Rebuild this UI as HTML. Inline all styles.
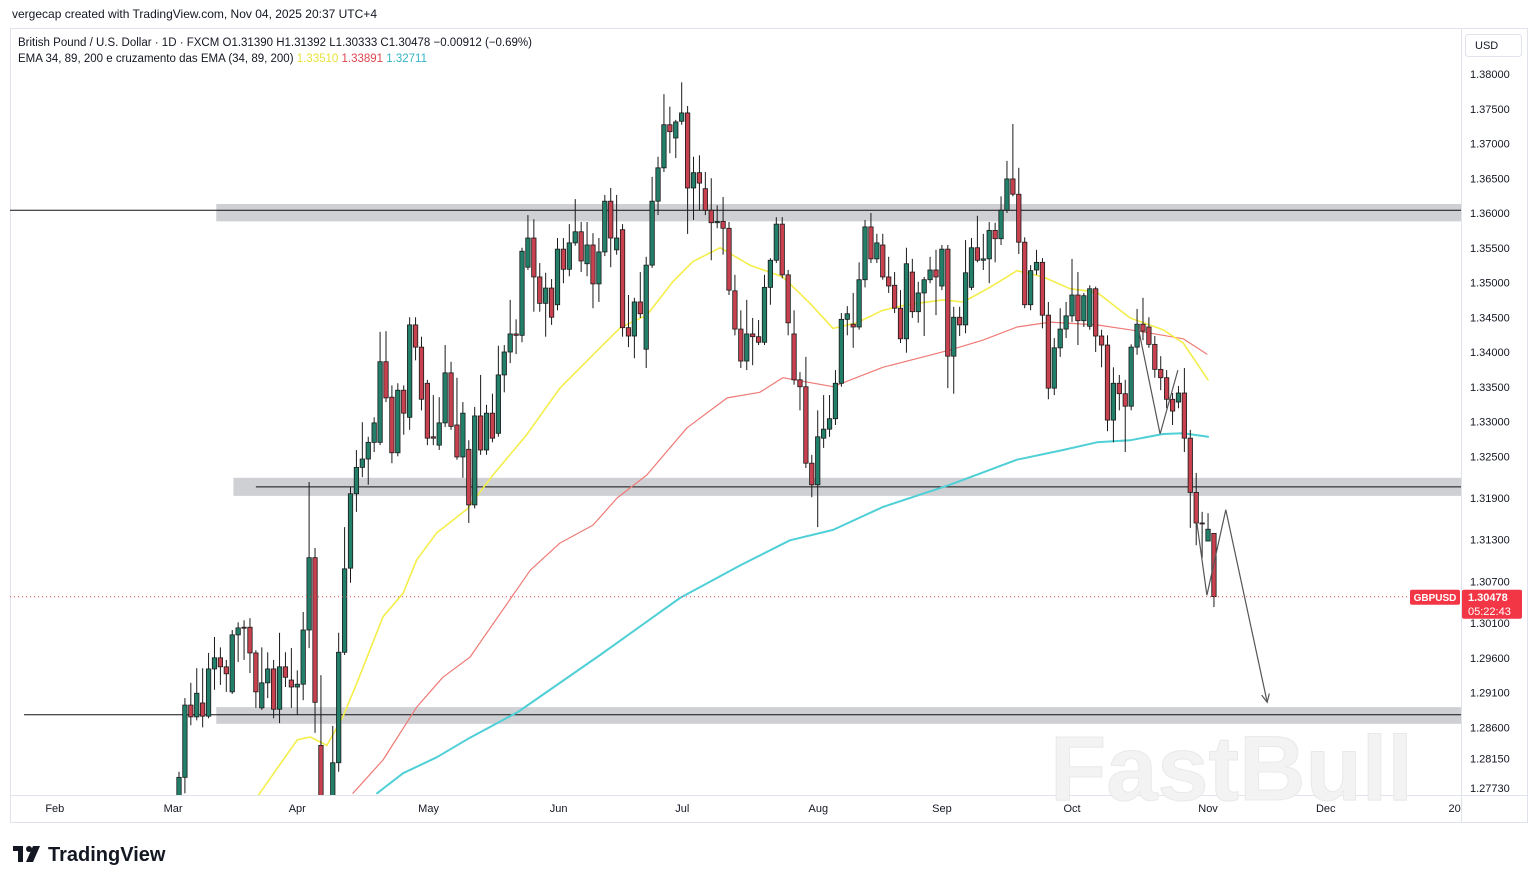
<!DOCTYPE html>
<html><head><meta charset="utf-8">
<style>
html,body{margin:0;padding:0;background:#fff;}
svg{display:block;font-family:"Liberation Sans",sans-serif;}
</style></head>
<body>
<svg id="chart" width="1537" height="883" viewBox="0 0 1537 883" xmlns="http://www.w3.org/2000/svg">
<defs><clipPath id="plotClip"><rect x="10" y="28" width="1451" height="767"/></clipPath></defs>
<rect x="0" y="0" width="1537" height="883" fill="#fff"/>
<text x="12" y="18" font-size="12" fill="#131722">vergecap created with TradingView.com, Nov 04, 2025 20:37 UTC+4</text>
<rect x="10.5" y="28.5" width="1517" height="794" fill="none" stroke="#e0e3eb"/>
<line x1="1461.5" y1="28" x2="1461.5" y2="822" stroke="#e0e3eb"/>
<line x1="10" y1="795.5" x2="1527" y2="795.5" stroke="#e0e3eb"/>
<text x="1050" y="800" font-size="92" font-weight="bold" fill="#f3f3f3" stroke="#e9e9e9" stroke-width="1">FastBull</text>
<g id="zones" clip-path="url(#plotClip)"></g>
<g id="emas" clip-path="url(#plotClip)"></g>
<g id="candles" clip-path="url(#plotClip)"></g>
<g id="annot" clip-path="url(#plotClip)"></g>
<g id="yaxis"></g>
<g id="xaxis"></g>
<g id="lastprice"></g>
<g>
<text x="18" y="46" font-size="11.5" fill="#131722">British Pound / U.S. Dollar · 1D · FXCM  O1.31390  H1.31392  L1.30333  C1.30478  −0.00912 (−0.69%)</text>
<text x="18" y="62" font-size="11.5" fill="#131722">EMA 34, 89, 200 e cruzamento das EMA (34, 89, 200)  <tspan fill="#e8e23a">1.33510</tspan>  <tspan fill="#e0454f">1.33891</tspan>  <tspan fill="#34b4c4">1.32711</tspan></text>
</g>
<g>
<rect x="1465.5" y="34.5" width="56" height="22" rx="3" fill="#fff" stroke="#e0e3eb"/>
<text x="1475" y="49" font-size="11" fill="#131722">USD</text>
</g>
<g>
<rect x="13" y="846" width="10" height="5" fill="#131722"/>
<rect x="18" y="846" width="5" height="16" fill="#131722"/>
<circle cx="29" cy="849" r="3" fill="#131722"/>
<polygon points="33,846 40,846 33,862 26,862" fill="#131722"/>
<text x="48" y="861" font-size="20" font-weight="bold" fill="#131722">TradingView</text>
</g>
</svg>
<script>
const opens=[1.2755,1.2788,1.2892,1.2875,1.2895,1.2876,1.2944,1.2960,1.2947,1.2911,
1.2993,1.3004,1.3004,1.2967,1.2888,1.2924,1.2944,1.2886,1.2947,1.2928,
1.2918,1.2922,1.3000,1.3104,1.2834,1.2720,1.2755,1.2809,1.2968,1.3089,
1.3196,1.3234,1.3246,1.3270,1.3270,1.3386,1.3335,1.3255,1.3345,1.3306,
1.3439,1.3407,1.3355,1.3278,1.3266,1.3298,1.3370,1.3295,1.3249,1.3260,
1.3180,1.3308,1.3259,1.3312,1.3283,1.3367,1.3400,1.3426,1.3424,1.3522,
1.3564,1.3508,1.3470,1.3492,1.3468,1.3548,1.3519,1.3557,1.3573,1.3527,
1.3554,1.3498,1.3544,1.3617,1.3547,1.3576,1.3435,1.3423,1.3472,1.3404,
1.3525,1.3617,1.3665,1.3727,1.3708,1.3732,1.3744,1.3636,1.3658,1.3635,
1.3604,1.3586,1.3588,1.3578,1.3488,1.3433,1.3387,1.3426,1.3422,1.3414,
1.3493,1.3532,1.3584,1.3511,1.3426,1.3360,1.3350,1.3240,1.3209,1.3276,
1.3289,1.3304,1.3355,1.3447,1.3440,1.3436,1.3504,1.3580,1.3534,1.3554,
1.3508,1.3496,1.3463,1.3419,1.3515,1.3458,1.3485,1.3504,1.3518,1.3495,
1.3548,1.3394,1.3450,1.3439,1.3493,1.3550,1.3532,1.3534,1.3575,1.3563,
1.3604,1.3649,1.3627,1.3558,1.3468,1.3518,1.3529,1.3453,1.3348,1.3406,
1.3433,1.3452,1.3482,1.3445,1.3437,1.3491,1.3423,1.3410,1.3302,1.3355,
1.3340,1.3322,1.3407,1.3440,1.3436,1.3411,1.3375,1.3363,1.3332,1.3328,
1.3341,1.3276,1.3198,1.3154,1.3128,1.3139];
const highs=[1.2796,1.2902,1.2924,1.2945,1.2945,1.2967,1.2990,1.2975,1.2957,1.3000,
1.3011,1.3014,1.3017,1.2971,1.2975,1.2968,1.2957,1.2996,1.2968,1.2974,
1.2942,1.3026,1.3213,1.3118,1.2935,1.2755,1.2862,1.2996,1.3148,1.3206,
1.3259,1.3299,1.3278,1.3306,1.3429,1.3430,1.3352,1.3355,1.3352,1.3450,
1.3450,1.3422,1.3360,1.3338,1.3335,1.3410,1.3386,1.3363,1.3328,1.3273,
1.3321,1.3367,1.3324,1.3340,1.3409,1.3410,1.3475,1.3447,1.3550,1.3597,
1.3591,1.3528,1.3514,1.3505,1.3564,1.3564,1.3584,1.3620,1.3587,1.3587,
1.3571,1.3564,1.3626,1.3636,1.3626,1.3584,1.3482,1.3478,1.3515,1.3537,
1.3652,1.3681,1.3771,1.3753,1.3734,1.3788,1.3754,1.3681,1.3683,1.3659,
1.3650,1.3611,1.3623,1.3587,1.3511,1.3460,1.3475,1.3449,1.3446,1.3511,
1.3535,1.3594,1.3594,1.3518,1.3460,1.3371,1.3393,1.3252,1.3316,1.3338,
1.3338,1.3374,1.3456,1.3466,1.3485,1.3529,1.3590,1.3600,1.3570,1.3570,
1.3537,1.3515,1.3489,1.3550,1.3534,1.3501,1.3508,1.3537,1.3547,1.3554,
1.3554,1.3465,1.3465,1.3561,1.3564,1.3596,1.3570,1.3587,1.3586,1.3624,
1.3675,1.3728,1.3665,1.3565,1.3525,1.3547,1.3535,1.3472,1.3420,1.3463,
1.3472,1.3534,1.3515,1.3485,1.3496,1.3494,1.3432,1.3424,1.3378,1.3367,
1.3360,1.3411,1.3462,1.3478,1.3450,1.3423,1.3394,1.3374,1.3341,1.3351,
1.3377,1.3288,1.3226,1.3170,1.3168,1.3139];
const lows=[1.2748,1.2765,1.2863,1.2870,1.2860,1.2873,1.2914,1.2921,1.2911,1.2908,
1.2954,1.2957,1.2938,1.2888,1.2885,1.2902,1.2873,1.2866,1.2918,1.2888,
1.2878,1.2899,1.2974,1.2852,1.2710,1.2700,1.2748,1.2796,1.2964,1.3068,
1.3170,1.3220,1.3209,1.3256,1.3266,1.3328,1.3240,1.3250,1.3281,1.3288,
1.3388,1.3316,1.3266,1.3266,1.3259,1.3292,1.3288,1.3245,1.3219,1.3154,
1.3175,1.3252,1.3252,1.3270,1.3278,1.3342,1.3384,1.3397,1.3414,1.3518,
1.3458,1.3458,1.3422,1.3439,1.3460,1.3499,1.3509,1.3553,1.3515,1.3509,
1.3463,1.3472,1.3538,1.3522,1.3540,1.3422,1.3407,1.3391,1.3449,1.3377,
1.3521,1.3597,1.3659,1.3686,1.3679,1.3727,1.3570,1.3590,1.3604,1.3597,
1.3532,1.3578,1.3540,1.3482,1.3424,1.3377,1.3374,1.3381,1.3410,1.3410,
1.3468,1.3528,1.3506,1.3424,1.3353,1.3316,1.3233,1.3191,1.3148,1.3262,
1.3278,1.3295,1.3350,1.3424,1.3406,1.3432,1.3493,1.3528,1.3528,1.3504,
1.3485,1.3456,1.3413,1.3399,1.3449,1.3442,1.3423,1.3499,1.3453,1.3489,
1.3348,1.3340,1.3423,1.3427,1.3489,1.3529,1.3518,1.3499,1.3529,1.3554,
1.3600,1.3624,1.3541,1.3463,1.3460,1.3511,1.3434,1.3332,1.3338,1.3393,
1.3420,1.3443,1.3410,1.3436,1.3432,1.3400,1.3378,1.3286,1.3270,1.3316,
1.3256,1.3316,1.3396,1.3417,1.3406,1.3363,1.3345,1.3319,1.3295,1.3319,
1.3256,1.3147,1.3122,1.3104,1.3128,1.3033];
const closes=[1.2788,1.2892,1.2875,1.2909,1.2876,1.2944,1.2960,1.2947,1.2937,1.2993,
1.3003,1.3003,1.2967,1.2911,1.2924,1.2944,1.2886,1.2947,1.2932,1.2918,
1.2922,1.3000,1.3104,1.2896,1.2730,1.2740,1.2809,1.2968,1.3088,1.3196,
1.3234,1.3246,1.3270,1.3298,1.3386,1.3334,1.3255,1.3345,1.3312,1.3439,
1.3407,1.3332,1.3276,1.3276,1.3298,1.3370,1.3293,1.3249,1.3312,1.3180,
1.3308,1.3259,1.3312,1.3276,1.3367,1.3400,1.3426,1.3424,1.3545,1.3564,
1.3508,1.3470,1.3492,1.3450,1.3548,1.3519,1.3557,1.3573,1.3531,1.3554,
1.3498,1.3544,1.3617,1.3564,1.3564,1.3435,1.3423,1.3472,1.3455,1.3525,
1.3617,1.3665,1.3727,1.3717,1.3731,1.3744,1.3636,1.3658,1.3643,1.3604,
1.3586,1.3588,1.3578,1.3489,1.3433,1.3387,1.3426,1.3422,1.3414,1.3493,
1.3532,1.3584,1.3511,1.3442,1.3360,1.3350,1.3240,1.3209,1.3278,1.3289,
1.3304,1.3355,1.3447,1.3455,1.3436,1.3504,1.3580,1.3534,1.3557,1.3508,
1.3495,1.3463,1.3419,1.3527,1.3458,1.3485,1.3504,1.3518,1.3508,1.3548,
1.3394,1.3450,1.3439,1.3514,1.3550,1.3532,1.3534,1.3575,1.3563,1.3604,
1.3649,1.3627,1.3558,1.3468,1.3517,1.3529,1.3453,1.3348,1.3406,1.3433,
1.3452,1.3482,1.3445,1.3481,1.3491,1.3423,1.3410,1.3302,1.3355,1.3340,
1.3322,1.3407,1.3440,1.3430,1.3411,1.3375,1.3363,1.3332,1.3315,1.3341,
1.3276,1.3198,1.3154,1.3153,1.3145,1.3048];

const ema34Idx=[13.4,20.0,22.2,25.0,27.7,30.1,34.5,37.9,40.2,43.6,48.7,53.1,58.8,64.4,70.0,74.6,79.1,83.5,86.9,91.5,96.5,102.1,106.7,110.6,114.6,119.0,123.1,129.2,132.6,137.1,141.7,146.1,150.7,155.2,160.8,166.4,169.8,174.0];
const ema34Val=[1.2762,1.2842,1.2846,1.2834,1.2875,1.2924,1.3019,1.3053,1.3101,1.3140,1.3174,1.3223,1.3281,1.3348,1.3396,1.3435,1.3453,1.3501,1.3530,1.3550,1.3525,1.3508,1.3470,1.3434,1.3442,1.3460,1.3468,1.3475,1.3472,1.3493,1.3517,1.3508,1.3491,1.3486,1.3449,1.3432,1.3413,1.3360];
const ema89Idx=[29.4,34.5,40.2,44.6,49.2,59.4,64.4,70.0,74.1,79.1,85.9,92.7,98.2,102.1,110.6,119.0,130.4,135.9,141.7,147.3,155.2,160.8,166.4,169.8,173.8];
const ema89Val=[1.2765,1.2813,1.2889,1.2932,1.2961,1.3086,1.3125,1.3151,1.3190,1.3223,1.3291,1.3334,1.3342,1.3363,1.3350,1.3378,1.3403,1.3417,1.3436,1.3443,1.3439,1.3432,1.3424,1.3419,1.3397];
const ema200Idx=[33.5,37.9,43.6,49.2,57.3,71.2,84.7,94.9,103.3,110.6,119.0,130.4,141.7,149.5,155.2,160.8,166.4,169.8,174.0];
const ema200Val=[1.2765,1.2794,1.2817,1.2845,1.2882,1.2964,1.3046,1.3093,1.3129,1.3144,1.3177,1.3209,1.3245,1.3259,1.3270,1.3273,1.3282,1.3283,1.3278];

const priceTicks=[1.38,1.375,1.37,1.365,1.36,1.355,1.35,1.345,1.34,1.335,1.33,1.325,1.319,1.313,1.307,1.301,1.296,1.291,1.286,1.2815,1.2773];
const tickLabels=["1.38000","1.37500","1.37000","1.36500","1.36000","1.35500","1.35000","1.34500","1.34000","1.33500","1.33000","1.32500","1.31900","1.31300","1.30700","1.30100","1.29600","1.29100","1.28600","1.28150","1.27730"];
const monthLabels=["Feb","Mar","Apr","May","Jun","Jul","Aug","Sep","Oct","Nov","Dec","20"];
const monthBarIdx=[-21,-1,20,42.2,64.2,85.1,108.1,129.0,151.0,174.0,193.9,215.7];

const zoneLow=[1.3588,1.3193,1.2865];
const zoneHigh=[1.3613,1.3219,1.2889];
const zoneStartIdx=[6.3,9.2,6.3];
const zoneLine=[1.3604,1.3206,1.2878];
const zoneLineStartIdx=[-28.6,13.0,-26.2];
const lastPrice=1.30478;

const NS="http://www.w3.org/2000/svg";
const X0=179, STEP=5.914, PLOT_R=1461;
function xs(i){return X0+i*STEP;}
function ys(p){return 74+(1.38-p)*6950;}
function mk(tag,attrs,parent){const e=document.createElementNS(NS,tag);for(const k in attrs)e.setAttribute(k,attrs[k]);parent.appendChild(e);return e;}

const gz=document.getElementById('zones');
for(let z=0;z<zoneLow.length;z++){
  const r=mk('rect',{x:xs(zoneStartIdx[z]),y:ys(zoneHigh[z]),width:PLOT_R-xs(zoneStartIdx[z]),height:ys(zoneLow[z])-ys(zoneHigh[z]),fill:'#cfd0d4'},gz);
  
  
  const l=mk('line',{x1:xs(zoneLineStartIdx[z]),x2:PLOT_R,y1:ys(zoneLine[z]),y2:ys(zoneLine[z]),stroke:'#111','stroke-width':1},gz);
  
  
}

const ge=document.getElementById('emas');
function emaLine(idx,val,color,w,name){
  let d='';
  for(let k=0;k<idx.length;k++){d+=(k?'L':'M')+xs(idx[k]).toFixed(1)+' '+ys(val[k]).toFixed(1);}
  const p=mk('path',{d:d,fill:'none',stroke:color,'stroke-width':w,'stroke-linejoin':'round','stroke-linecap':'round'},ge);
  
  
}
emaLine(ema200Idx,ema200Val,'#4fcfd6',2,'ema-200-line');
emaLine(ema89Idx,ema89Val,'#ef7a76',1.2,'ema-89-line');
emaLine(ema34Idx,ema34Val,'#f4ee4a',1.6,'ema-34-line');

const gc=document.getElementById('candles');
for(let i=0;i<closes.length;i++){
  const x=xs(i), up=closes[i]>=opens[i];
  const g=mk('g',{},gc);
  
  
  mk('line',{x1:x,x2:x,y1:ys(highs[i]),y2:ys(lows[i]),stroke:'#1a1a1a','stroke-width':1},g);
  const top=ys(Math.max(opens[i],closes[i])), bot=ys(Math.min(opens[i],closes[i]));
  mk('rect',{x:x-2.2,y:top,width:4.4,height:Math.max(1,bot-top),fill:up?'#22806a':'#c8414f',stroke:'#1a1a1a','stroke-width':0.8},g);
}

const ga=document.getElementById('annot');
const zig1Idx=[162.0,165.9,168.9], zig1Px=[1.3443,1.3282,1.3374];
const zig2Idx=[172.1,173.8,177.0,184.0], zig2Px=[1.3155,1.3050,1.3173,1.2896];
function poly(idx,px,name){
  const pts=idx.map((v,k)=>xs(v).toFixed(1)+','+ys(px[k]).toFixed(1)).join(' ');
  const p=mk('polyline',{points:pts,fill:'none',stroke:'#555','stroke-width':1.2},ga);
  
  
}
poly(zig1Idx,zig1Px,'zigzag-drawing');
poly(zig2Idx,zig2Px,'projection-arrow-line');
{
  const n=zig2Idx.length-1;
  const ex=xs(zig2Idx[n]), ey=ys(zig2Px[n]), sx=xs(zig2Idx[n-1]), sy=ys(zig2Px[n-1]);
  const a=Math.atan2(ey-sy,ex-sx), L=9;
  const d='M'+(ex-L*Math.cos(a-0.45))+' '+(ey-L*Math.sin(a-0.45))+'L'+ex+' '+ey+'L'+(ex-L*Math.cos(a+0.45))+' '+(ey-L*Math.sin(a+0.45));
  const ah=mk('path',{d:d,fill:'none',stroke:'#555','stroke-width':1.2},ga);
  
  
}

const gy=document.getElementById('yaxis');
for(let k=0;k<priceTicks.length;k++){
  const t=mk('text',{x:1470,y:ys(priceTicks[k])+4,'font-size':11,fill:'#131722'},gy);
  t.textContent=tickLabels[k];
  
  
}
const gx=document.getElementById('xaxis');
for(let k=0;k<monthLabels.length;k++){
  const t=mk('text',{x:xs(monthBarIdx[k]),y:812,'font-size':11,fill:'#131722','text-anchor':'middle'},gx);
  t.textContent=monthLabels[k];
  
  
}
const gl=document.getElementById('lastprice');
const ly=ys(lastPrice);
const dl=mk('line',{x1:10,x2:1461,y1:ly,y2:ly,stroke:'#e0454f','stroke-width':1,'stroke-dasharray':'1,3'},gl);


const sb=mk('rect',{x:1410,y:ly-7,width:50,height:15,rx:2,fill:'#f23645'},gl);


const st=mk('text',{x:1435,y:ly+4,'font-size':10,fill:'#fff','text-anchor':'middle','font-weight':'bold'},gl);
st.textContent='GBPUSD';


const pb=mk('rect',{x:1462,y:ly-7,width:60,height:29,rx:2,fill:'#f23645'},gl);


const pt=mk('text',{x:1468,y:ly+4,'font-size':11,fill:'#fff','font-weight':'bold'},gl);
pt.textContent=lastPrice.toFixed(5);


const ct=mk('text',{x:1468,y:ly+18,'font-size':11,fill:'#fff'},gl);
ct.textContent='05:22:43';


</script>
</body></html>
